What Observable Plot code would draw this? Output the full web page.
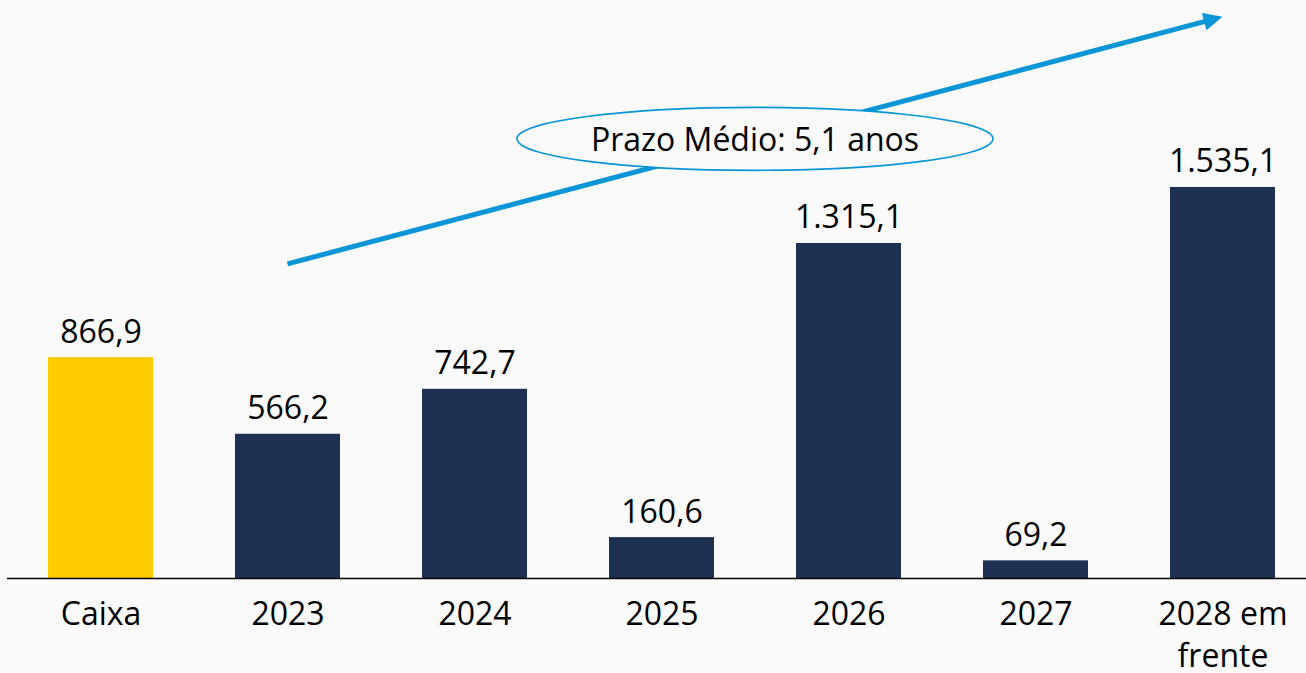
<!DOCTYPE html>
<html>
<head>
<meta charset="utf-8">
<script src="https://cdn.jsdelivr.net/npm/d3@7"></script>
<script src="https://cdn.jsdelivr.net/npm/@observablehq/plot@0.6"></script>
<style>
  html, body { margin: 0; padding: 0; background: #fafafa; }
  #chart { width: 1306px; height: 673px; overflow: hidden; }
  svg { font-family: "Open Sans", sans-serif; }
</style>
</head>
<body>
<div id="chart"></div>
<script>
// ---- data ----
const categories = ["Caixa", "2023", "2024", "2025", "2026", "2027", "2028 em frente"];
const tickLabels = ["Caixa", "2023", "2024", "2025", "2026", "2027", "2028 em\nfrente"];
const values = [866.9, 566.2, 742.7, 160.6, 1315.1, 69.2, 1535.1];
const valueLabels = ["866,9", "566,2", "742,7", "160,6", "1.315,1", "69,2", "1.535,1"];
const barGroups = ["caixa", "venc", "venc", "venc", "venc", "venc", "venc"];

// annotation: trend arrow and average term
const arrowStart = {x: "2023", y: 1233};
const arrowEnd = {x: "2028 em frente", y: 2203};
const noteText = "Prazo Médio: 5,1 anos";
const noteBetween = ["2025", "2026"];
const noteY = 1724;

// ---- build ----
const data = categories.map((c, i) => ({
  cat: c, tick: tickLabels[i], value: values[i], label: valueLabels[i], group: barGroups[i]
}));

const BLUE = "#0995d6";
const BG = "#fafafa";

function annotation(index, scales, values, dimensions) {
  const sx = scales.x, sy = scales.y;
  const bw = typeof sx.bandwidth === "function" ? sx.bandwidth() : 0;
  const cx = v => sx(v) + bw / 2;
  const g = d3.create("svg:g");
  const x1 = cx(arrowStart.x), y1 = sy(arrowStart.y);
  const x2 = cx(arrowEnd.x), y2 = sy(arrowEnd.y);
  const len = Math.hypot(x2 - x1, y2 - y1);
  const ux = (x2 - x1) / len, uy = (y2 - y1) / len;
  const L = 19, W = 9;
  const bx = x2 - ux * L, by = y2 - uy * L;
  g.append("line")
    .attr("x1", x1).attr("y1", y1).attr("x2", bx + ux * 2).attr("y2", by + uy * 2)
    .attr("stroke", BLUE).attr("stroke-width", 5);
  g.append("path")
    .attr("d", `M${x2},${y2}L${bx - uy * W},${by + ux * W}L${bx + uy * W},${by - ux * W}Z`)
    .attr("fill", BLUE);
  const ex = (cx(noteBetween[0]) + cx(noteBetween[1])) / 2;
  const ey = sy(noteY);
  g.append("ellipse")
    .attr("cx", ex).attr("cy", ey).attr("rx", 238).attr("ry", 31.5)
    .attr("fill", BG).attr("stroke", BLUE).attr("stroke-width", 1.6);
  g.append("text")
    .attr("x", ex).attr("y", ey + 12)
    .attr("text-anchor", "middle")
    .attr("font-size", 32)
    .attr("fill", "#000")
    .text(noteText);
  return g.node();
}

const chart = Plot.plot({
  width: 1306,
  height: 673,
  marginTop: 0,
  marginBottom: 95,
  marginLeft: 7,
  marginRight: 0,
  style: {background: "transparent", fontFamily: "Open Sans, sans-serif"},
  x: {domain: categories, range: [7, 1316], paddingInner: 0.4385, paddingOuter: 0.2193, round: false, axis: null},
  y: {domain: [0, 2269], axis: null},
  color: {domain: ["caixa", "venc"], range: ["#FFCC00", "#1F3152"]},
  marks: [
    Plot.barY(data, {x: "cat", y: "value", fill: "group"}),
    Plot.ruleY([0], {stroke: "#000", strokeWidth: 1.5}),
    Plot.text(data, {x: "cat", y: "value", text: "label", lineAnchor: "bottom", dy: -15, fontSize: 32, fill: "#000"}),
    Plot.text(data, {x: "cat", y: () => 0, text: "tick", lineAnchor: "top", dy: 17, fontSize: 32, lineHeight: 1.31, fill: "#000"}),
    annotation
  ]
});
document.getElementById("chart").appendChild(chart);
</script>
</body>
</html>
